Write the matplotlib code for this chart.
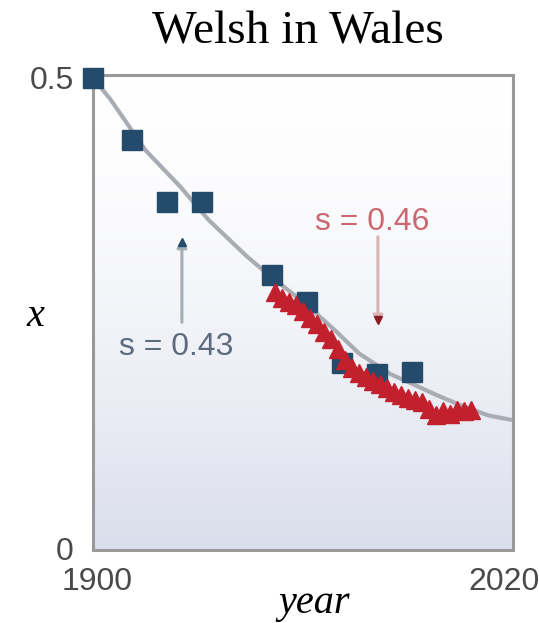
import numpy as np
import matplotlib
matplotlib.use('Agg')
import matplotlib.pyplot as plt
from matplotlib.transforms import ScaledTranslation

# census (blue squares)
census_years = [1900, 1911, 1921, 1931, 1951, 1961, 1971, 1981, 1991]
census_vals = [0.500, 0.434, 0.368, 0.368, 0.290, 0.262, 0.197, 0.185, 0.187]

# annual survey (red triangles)
survey_years = [1952, 1954, 1956, 1958, 1960, 1962, 1964, 1966, 1968, 1970,
                1972, 1974, 1976, 1978, 1980, 1982, 1984, 1986, 1988, 1990,
                1992, 1994, 1996, 1998, 2000, 2002, 2004, 2006, 2008]
survey_vals = [0.272, 0.266, 0.262, 0.258, 0.252, 0.245, 0.238, 0.230, 0.222, 0.212,
               0.200, 0.192, 0.186, 0.182, 0.178, 0.174, 0.170, 0.166, 0.163, 0.160,
               0.158, 0.155, 0.148, 0.142, 0.146, 0.143, 0.147, 0.146, 0.147]

# model curve (grey)
model_years = [1900, 1905, 1915, 1925, 1933, 1944, 1951, 1960, 1969, 1976,
               1985, 1991, 1998, 2005, 2013, 2020]
model_vals = [0.500, 0.477, 0.423, 0.384, 0.349, 0.310, 0.288, 0.262, 0.232, 0.207,
              0.185, 0.175, 0.163, 0.152, 0.141, 0.136]

W, H = 539, 623
fig = plt.figure(figsize=(W / 100, H / 100), dpi=100)
ax = fig.add_axes([93 / W, 1 - 550 / H, 420 / W, 475 / H])

# background gradient, white on top -> pale lavender at the bottom
t = np.linspace(0, 1, 200)[:, None] ** 1.6
top = np.array([1.0, 1.0, 1.0])
bot = np.array([218, 222, 236]) / 255
grad = top * (1 - t[..., None]) + bot * t[..., None]
grad = np.repeat(grad, 2, axis=1)
ax.imshow(grad, extent=[1900, 2020, -0.002, 0.503], aspect='auto', zorder=0)
ax.set_xlim(1900, 2020)
ax.set_ylim(-0.002, 0.503)

ax.plot(model_years, model_vals, color='#a9adb3', lw=3, zorder=2)
ax.plot(census_years, census_vals, 's', color='#244b6c', ms=14, zorder=3, clip_on=False)
ax.plot(survey_years, survey_vals, '^', color='#c3202e', ms=12.5, zorder=4, clip_on=False)

# annotations
ax.annotate('', xy=(1925.4, 0.33), xytext=(1925.4, 0.24),
            arrowprops=dict(arrowstyle='-|>', color='#a5adb5', lw=2.2, mutation_scale=14,
                            shrinkA=0, shrinkB=0))
ax.plot([1925.4], [0.325], '^', color='#244b6c', ms=6, zorder=5)
ax.text(1923.7, 0.214, 's = 0.43', color='#5d6b7d', fontsize=23,
        family='Liberation Sans', ha='center', va='center')

ax.annotate('', xy=(1981.4, 0.237), xytext=(1981.4, 0.331),
            arrowprops=dict(arrowstyle='-|>', color='#d9b4b6', lw=2.2, mutation_scale=14,
                            shrinkA=0, shrinkB=0))
ax.plot([1981.4], [0.242], 'v', color='#8a1a24', ms=6, zorder=5)
ax.text(1979.7, 0.347, 's = 0.46', color='#cc6670', fontsize=23,
        family='Liberation Sans', ha='center', va='center')

for s in ax.spines.values():
    s.set_color('#999999')
    s.set_linewidth(2.2)

ax.set_xticks([1900, 2020])
ax.set_xticklabels(['1900', '2020'])
ax.set_yticks([0, 0.5])
ax.set_yticklabels(['0', '0.5'])
ax.tick_params(length=0, labelsize=23, labelcolor='#4a4a4a')
ax.tick_params(axis='x', pad=12)
ax.tick_params(axis='y', pad=14)
for lab in ax.get_xticklabels() + ax.get_yticklabels():
    lab.set_family('Liberation Sans')

# nudge the x labels like in the original (2020 kept inside the picture)
xl = ax.get_xticklabels()
xl[0].set_transform(xl[0].get_transform() + ScaledTranslation(4 / 100, 0, fig.dpi_scale_trans))
xl[1].set_transform(xl[1].get_transform() + ScaledTranslation(-9 / 100, 0, fig.dpi_scale_trans))

fig.text(298 / W, 1 - 44 / H, 'Welsh in Wales', fontsize=34, family='Liberation Serif',
         ha='center', va='baseline')
fig.text(314 / W, 1 - 613 / H, 'year', fontsize=29, family='Liberation Serif',
         style='italic', ha='center', va='baseline')
fig.text(35 / W, 1 - 316 / H, 'x', fontsize=29, family='Liberation Serif',
         style='italic', ha='center', va='center')

fig.savefig('out.png', dpi=100)
